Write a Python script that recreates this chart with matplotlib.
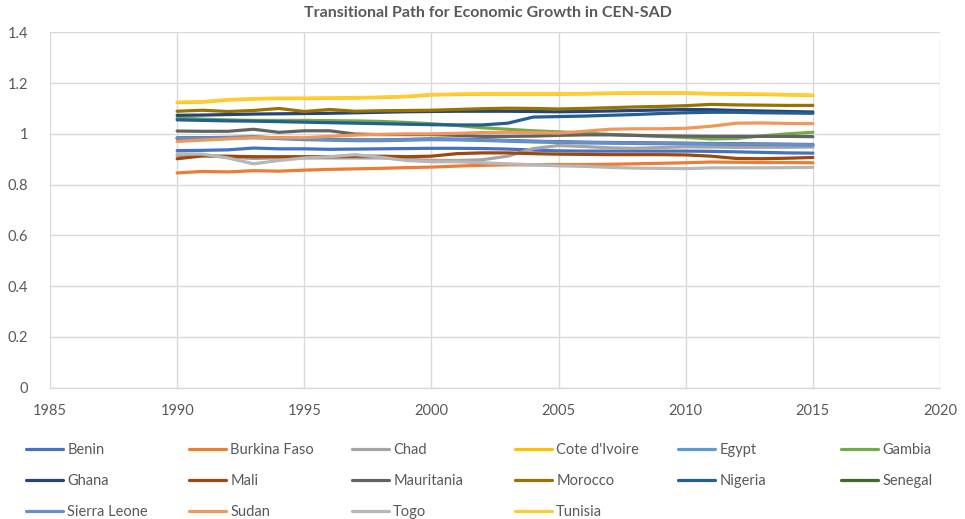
import matplotlib
matplotlib.use("Agg")
import matplotlib.pyplot as plt

plt.rcParams['font.family'] = ['Lato', 'DejaVu Sans']

years = list(range(1990, 2016))

countries = ["Benin", "Burkina Faso", "Chad", "Cote d'Ivoire", "Egypt", "Gambia",
             "Ghana", "Mali", "Mauritania", "Morocco", "Nigeria", "Senegal",
             "Sierra Leone", "Sudan", "Togo", "Tunisia"]

benin = [0.934, 0.935, 0.937, 0.944, 0.941, 0.941, 0.939, 0.940, 0.941, 0.942, 0.943, 0.943, 0.942,
         0.940, 0.936, 0.933, 0.932, 0.932, 0.932, 0.932, 0.932, 0.931, 0.929, 0.927, 0.925, 0.924]
burkina_faso = [0.846, 0.852, 0.850, 0.855, 0.853, 0.857, 0.860, 0.862, 0.864, 0.867, 0.869, 0.873, 0.876,
                0.878, 0.878, 0.879, 0.879, 0.880, 0.882, 0.884, 0.886, 0.889, 0.888, 0.887, 0.887, 0.886]
chad = [0.915, 0.915, 0.908, 0.903, 0.905, 0.905, 0.905, 0.905, 0.905, 0.900, 0.896, 0.895, 0.898,
        0.912, 0.942, 0.954, 0.950, 0.945, 0.943, 0.946, 0.949, 0.948, 0.947, 0.947, 0.947, 0.948]
cote_divoire = [1.123, 1.125, 1.133, 1.137, 1.139, 1.139, 1.140, 1.141, 1.143, 1.146, 1.153, 1.155, 1.156,
                1.156, 1.156, 1.156, 1.157, 1.159, 1.160, 1.160, 1.160, 1.157, 1.156, 1.155, 1.153, 1.151]
egypt = [0.981, 0.982, 0.983, 0.985, 0.981, 0.977, 0.975, 0.973, 0.973, 0.975, 0.977, 0.976, 0.974,
         0.971, 0.968, 0.966, 0.964, 0.963, 0.962, 0.961, 0.960, 0.959, 0.958, 0.957, 0.956, 0.955]
gambia = [1.063, 1.058, 1.055, 1.053, 1.053, 1.053, 1.052, 1.051, 1.049, 1.045, 1.040, 1.033, 1.024,
          1.018, 1.012, 1.008, 1.003, 0.998, 0.994, 0.990, 0.986, 0.980, 0.982, 0.992, 1.000, 1.006]
ghana = [1.073, 1.074, 1.076, 1.078, 1.079, 1.080, 1.081, 1.083, 1.085, 1.087, 1.088, 1.089, 1.089,
         1.089, 1.088, 1.087, 1.088, 1.090, 1.092, 1.094, 1.096, 1.095, 1.092, 1.090, 1.088, 1.086]
mali = [0.902, 0.913, 0.912, 0.910, 0.910, 0.910, 0.910, 0.912, 0.912, 0.910, 0.912, 0.922, 0.925,
        0.925, 0.922, 0.920, 0.919, 0.918, 0.918, 0.918, 0.917, 0.912, 0.903, 0.902, 0.904, 0.907]
mauritania = [1.011, 1.010, 1.010, 1.018, 1.006, 1.012, 1.012, 0.999, 0.997, 0.997, 0.997, 0.994, 0.990,
              0.990, 0.991, 0.994, 0.996, 0.996, 0.994, 0.992, 0.991, 0.990, 0.990, 0.990, 0.990, 0.989]
morocco = [1.089, 1.093, 1.088, 1.092, 1.100, 1.088, 1.096, 1.089, 1.091, 1.092, 1.093, 1.096, 1.099,
           1.101, 1.100, 1.098, 1.100, 1.103, 1.106, 1.108, 1.111, 1.116, 1.114, 1.113, 1.112, 1.112]
nigeria = [1.055, 1.053, 1.051, 1.050, 1.048, 1.046, 1.044, 1.042, 1.040, 1.038, 1.036, 1.035, 1.035,
           1.042, 1.066, 1.068, 1.070, 1.073, 1.076, 1.080, 1.083, 1.085, 1.085, 1.083, 1.082, 1.081]
senegal = [0.984, 0.985, 0.986, 0.988, 0.984, 0.980, 0.978, 0.976, 0.976, 0.978, 0.980, 0.979, 0.977,
           0.974, 0.971, 0.969, 0.967, 0.966, 0.965, 0.964, 0.963, 0.962, 0.961, 0.960, 0.959, 0.958]
sierra_leone = [0.983, 0.984, 0.985, 0.987, 0.983, 0.979, 0.977, 0.975, 0.975, 0.977, 0.979, 0.978, 0.976,
                0.973, 0.970, 0.968, 0.966, 0.965, 0.964, 0.963, 0.962, 0.961, 0.960, 0.959, 0.958, 0.957]
sudan = [0.970, 0.975, 0.980, 0.985, 0.985, 0.985, 0.990, 0.995, 0.998, 1.000, 1.000, 1.002, 1.005,
         1.006, 1.005, 1.003, 1.010, 1.018, 1.020, 1.020, 1.022, 1.030, 1.042, 1.043, 1.041, 1.040]
togo = [0.922, 0.920, 0.905, 0.882, 0.895, 0.905, 0.910, 0.918, 0.908, 0.895, 0.890, 0.890, 0.886,
        0.882, 0.878, 0.874, 0.872, 0.868, 0.865, 0.864, 0.863, 0.866, 0.866, 0.866, 0.867, 0.868]
tunisia = [1.125, 1.127, 1.135, 1.139, 1.141, 1.141, 1.142, 1.143, 1.145, 1.148, 1.155, 1.157, 1.158,
           1.158, 1.158, 1.158, 1.159, 1.161, 1.162, 1.162, 1.162, 1.159, 1.158, 1.157, 1.155, 1.153]

series = [benin, burkina_faso, chad, cote_divoire, egypt, gambia, ghana, mali,
          mauritania, morocco, nigeria, senegal, sierra_leone, sudan, togo, tunisia]

colors = ["#4472C4", "#ED7D31", "#A5A5A5", "#FFC000", "#5B9BD5", "#70AD47",
          "#264478", "#9E480E", "#636363", "#997300", "#255E91", "#43682B",
          "#698ED0", "#F1975A", "#B7B7B7", "#FFCD33"]

x_ticks = [1985, 1990, 1995, 2000, 2005, 2010, 2015, 2020]
y_ticks = [0, 0.2, 0.4, 0.6, 0.8, 1, 1.2, 1.4]
y_labels = ["0", "0.2", "0.4", "0.6", "0.8", "1", "1.2", "1.4"]

W, H = 965, 519
fig = plt.figure(figsize=(W / 100, H / 100), dpi=100)
ax = fig.add_axes([50 / W, 1 - 387.7 / H, (940 - 50) / W, (387.7 - 32.3) / H])

handles = []
for name, vals, c in zip(countries, series, colors):
    ln, = ax.plot(years, vals, color=c, lw=2.3, solid_joinstyle='round',
                  solid_capstyle='round', label=name)
    handles.append(ln)

ax.set_xlim(1985, 2020)
ax.set_ylim(0, 1.4)
ax.set_xticks(x_ticks)
ax.set_xticklabels([str(v) for v in x_ticks])
ax.set_yticks(y_ticks)
ax.set_yticklabels(y_labels)
ax.grid(True, color="#D9D9D9", lw=1.0)
ax.set_axisbelow(True)
for s in ["top", "right", "left"]:
    ax.spines[s].set_visible(False)
ax.spines["bottom"].set_color("#D9D9D9")
ax.spines["bottom"].set_linewidth(1.0)
ax.tick_params(length=0, labelsize=10.5, labelcolor="#595959")
ax.tick_params(axis='y', pad=16)
ax.tick_params(axis='x', pad=12)

fig.text(488 / W, 1 - 13 / H, "Transitional Path for Economic Growth in CEN-SAD",
         ha='center', va='center', fontsize=11.5, fontweight='bold', color="#595959")

# Legend: 6 columns, 3 rows, row-major order
ncol = 6
col_x = [26 + i * 163 for i in range(ncol)]
for ci in range(ncol):
    hs = [handles[i] for i in range(ci, len(handles), ncol)]
    labs = [countries[i] for i in range(ci, len(handles), ncol)]
    leg = fig.legend(hs, labs, loc='upper left',
                     bbox_to_anchor=((col_x[ci] - 4) / W, 1 - 439 / H),
                     frameon=False, fontsize=10.5, handlelength=2.5,
                     handletextpad=0.3, labelspacing=1.15, borderaxespad=0,
                     borderpad=0.3, labelcolor="#595959")
    for lh in leg.get_lines():
        lh.set_linewidth(2.3)

fig.savefig("out.png", dpi=100)
